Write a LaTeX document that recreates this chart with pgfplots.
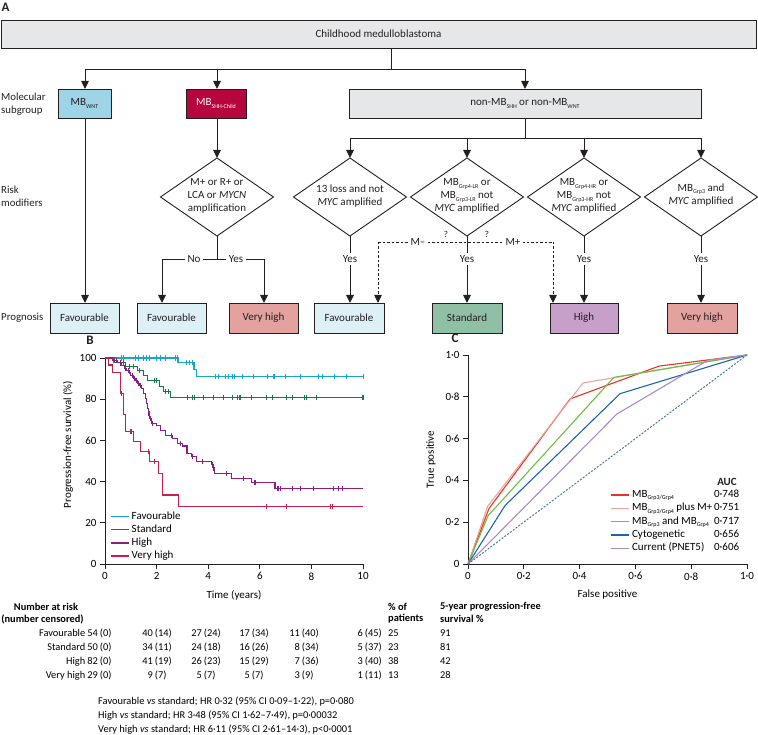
\documentclass[border=0pt]{standalone}
\usepackage{fontspec}
\setmainfont{Carlito}
\usepackage{pgfplots}
\pgfplotsset{compat=1.18}
\usetikzlibrary{arrows.meta}

\definecolor{lc}{HTML}{231F20}
\definecolor{boxgray}{HTML}{E6E7E8}
\definecolor{wntblue}{HTML}{9DD4E6}
\definecolor{shhred}{HTML}{B6063D}
\definecolor{favbg}{HTML}{DDF0F6}
\definecolor{vhbg}{HTML}{E3A29E}
\definecolor{stdbg}{HTML}{8FBFA4}
\definecolor{highbg}{HTML}{C6A0C8}
\definecolor{kmfav}{HTML}{18A5CE}
\definecolor{kmstd}{HTML}{167A45}
\definecolor{kmhigh}{HTML}{8D1F83}
\definecolor{kmvh}{HTML}{C81F4F}
\definecolor{rocred}{HTML}{EE3124}
\definecolor{rocpink}{HTML}{EAA59F}
\definecolor{rocgreen}{HTML}{6DBE45}
\definecolor{rocblue}{HTML}{1D63AE}
\definecolor{rocpurple}{HTML}{A98BCB}
\definecolor{rocdiag}{HTML}{4F7D8C}

\newcommand\sub[1]{\raisebox{-0.45ex}{\fontsize{6}{6}\selectfont #1}}
\newcommand\fF{\fontsize{11}{13}\selectfont}
\newcommand\fT{\fontsize{10.4}{12}\selectfont}
\newcommand\fX{\fontsize{11}{12}\selectfont}
\newcommand\cell[4]{\node[anchor=base east,inner sep=0pt] at (#1,#2) {#3};\node[anchor=base west,inner sep=0pt] at (#1,#2) {\,(#4)};}

\begin{document}
\begin{tikzpicture}
\begin{scope}[x=1pt,y=-1pt,
  box/.style={draw=lc,line width=0.9pt},
  ln/.style={draw=lc,line width=0.9pt},
  arr/.style={draw=lc,line width=0.9pt,-{Triangle[width=7.5pt,length=8pt]}},
  lab/.style={fill=white,inner sep=2.5pt,font=\fF},
  every node/.style={font=\fF,text=lc}]
\useasboundingbox (0,0) rectangle (758,735);
% panel labels
\node[font=\fontsize{13}{13}\selectfont\bfseries] at (5.5,7) {A};
\node[font=\fontsize{13}{13}\selectfont\bfseries] at (90,340) {B};
\node[font=\fontsize{13}{13}\selectfont\bfseries] at (455,338) {C};
% top box
\draw[box,fill=boxgray] (1,20) rectangle (756,48);
\node at (378.5,34) {Childhood medulloblastoma};
\draw[ln] (391,48) -- (391,69);
\draw[ln] (85,69) -- (525,69);
\draw[arr] (85,69) -- (85,89);
\draw[arr] (217,69) -- (217,89);
\draw[arr] (525,69) -- (525,89);
% subgroup boxes
\draw[box,fill=wntblue] (58,89) rectangle (111,118);
\node at (84.5,103.5) {MB\sub{WNT}};
\draw[box,fill=shhred] (186,89) rectangle (246,118);
\node[text=white] at (216,103.5) {MB\sub{SHH-Child}};
\draw[box,fill=boxgray] (349,89) rectangle (701,118);
\node at (525,103.5) {non-MB\sub{SHH} or non-MB\sub{WNT}};
% left labels
\node[anchor=west,align=left,inner sep=0pt,font=\fontsize{10.8}{13}\selectfont] at (1,104.5) {Molecular\\subgroup};
\node[anchor=west,align=left,inner sep=0pt,font=\fontsize{10.8}{13}\selectfont] at (1,196.5) {Risk\\modifiers};
\node[anchor=west,inner sep=0pt,font=\fontsize{10.8}{13}\selectfont] at (1,318) {Prognosis};
% WNT
\draw[arr] (85,118) -- (85,303);
% SHH
\draw[arr] (217,118) -- (217,158);
\draw[box,fill=white] (217,158) -- (273.5,197) -- (217,236) -- (160.5,197) -- cycle;
\node[align=center] at (217,196) {M+ or R+ or\\LCA or \textit{MYCN}\\amplification};
\draw[ln] (217,236) -- (217,259);
\draw[ln] (162,259) -- (264,259);
\draw[arr] (162,259) -- (162,303);
\draw[arr] (264,259) -- (264,303);
\node[lab] at (194,259) {No};
\node[lab] at (236,259) {Yes};
% non-MB
\draw[ln] (525,118) -- (525,138);
\draw[ln] (350,138) -- (701,138);
\foreach \cx in {350,467,584,701}{
  \draw[arr] (\cx,138) -- (\cx,158);
  \draw[box,fill=white] (\cx,158) -- (\cx+56.5,197) -- (\cx,236) -- (\cx-56.5,197) -- cycle;
}
\node[align=center] at (350,196) {13 loss and not\\\textit{MYC} amplified};
\node[align=center] at (467,196) {MB\sub{Grp4-LR} or\\MB\sub{Grp3-LR} not\\\textit{MYC} amplified};
\node[align=center] at (584,196) {MB\sub{Grp4-HR} or\\MB\sub{Grp3-HR} not\\\textit{MYC} amplified};
\node[align=center] at (701,195) {MB\sub{Grp3} and\\\textit{MYC} amplified};
% dashed
\draw[draw=lc,line width=0.8pt,dash pattern=on 2.5pt off 2pt] (378,242) -- (553,242);
\draw[draw=lc,line width=0.8pt,dash pattern=on 2.5pt off 2pt,-{Triangle[width=7.5pt,length=8pt]}] (378,242) -- (378,303);
\draw[draw=lc,line width=0.8pt,dash pattern=on 2.5pt off 2pt,-{Triangle[width=7.5pt,length=8pt]}] (553,242) -- (553,303);
\node[lab] at (418,242) {M–};
\node[lab] at (513,242) {M+};
\node[font=\fontsize{9}{9}\selectfont] at (446,234) {?};
\node[font=\fontsize{9}{9}\selectfont] at (487,234) {?};
\foreach \cx in {350,467,584,701}{
  \draw[arr] (\cx,236) -- (\cx,303);
  \node[lab] at (\cx,259) {Yes};
}
% prognosis boxes
\draw[box,fill=favbg] (50,303) rectangle (119,333); \node at (84.5,318) {Favourable};
\draw[box,fill=favbg] (137,303) rectangle (206,333); \node at (171.5,318) {Favourable};
\draw[box,fill=vhbg] (229,303) rectangle (298,333); \node at (263.5,318) {Very high};
\draw[box,fill=favbg] (314,303) rectangle (384,333); \node at (349,318) {Favourable};
\draw[box,fill=stdbg] (432,303) rectangle (502,333); \node at (467,318) {Standard};
\draw[box,fill=highbg] (550,303) rectangle (618,333); \node at (584,318) {High};
\draw[box,fill=vhbg] (667,303) rectangle (737,333); \node at (702,318) {Very high};
% AUC header
\node[anchor=center,font=\fX\bfseries] at (727,482) {AUC};
% table
\begin{scope}[every node/.style={font=\fT,text=black}]
\node[font=\fT\bfseries,inner sep=0pt] at (46,607) {Number at risk};
\node[font=\fT\bfseries,inner sep=0pt] at (42.5,619) {(number censored)};
\node[font=\fT\bfseries,anchor=west,inner sep=0pt] at (388,607) {\% of};
\node[font=\fT\bfseries,anchor=west,inner sep=0pt] at (388,619) {patients};
\node[font=\fT\bfseries,anchor=west,inner sep=0pt] at (440,607) {5-year progression-free};
\node[font=\fT\bfseries,anchor=west,inner sep=0pt] at (440,619) {survival \%};
\node[anchor=base east,inner sep=0pt] at (85.5,636.5) {Favourable};
\node[anchor=base east,inner sep=0pt] at (85.5,650.5) {Standard};
\node[anchor=base east,inner sep=0pt] at (85.5,664.5) {High};
\node[anchor=base east,inner sep=0pt] at (85.5,678.5) {Very high};
\cell{98}{636.5}{54}{0}\cell{153}{636.5}{40}{14}\cell{202}{636.5}{27}{24}\cell{250}{636.5}{17}{34}\cell{300}{636.5}{11}{40}\cell{363}{636.5}{6}{45}
\cell{98}{650.5}{50}{0}\cell{153}{650.5}{34}{11}\cell{202}{650.5}{24}{18}\cell{250}{650.5}{16}{26}\cell{300}{650.5}{8}{34}\cell{363}{650.5}{5}{37}
\cell{98}{664.5}{82}{0}\cell{153}{664.5}{41}{19}\cell{202}{664.5}{26}{23}\cell{250}{664.5}{15}{29}\cell{300}{664.5}{7}{36}\cell{363}{664.5}{3}{40}
\cell{98}{678.5}{29}{0}\cell{153}{678.5}{9}{7}\cell{202}{678.5}{5}{7}\cell{250}{678.5}{5}{7}\cell{300}{678.5}{3}{9}\cell{363}{678.5}{1}{11}
\node[anchor=base west,inner sep=0pt] at (388,636.5) {25};
\node[anchor=base west,inner sep=0pt] at (388,650.5) {23};
\node[anchor=base west,inner sep=0pt] at (388,664.5) {38};
\node[anchor=base west,inner sep=0pt] at (388,678.5) {13};
\node[anchor=base west,inner sep=0pt] at (440,636.5) {91};
\node[anchor=base west,inner sep=0pt] at (440,650.5) {81};
\node[anchor=base west,inner sep=0pt] at (440,664.5) {42};
\node[anchor=base west,inner sep=0pt] at (440,678.5) {28};
\node[anchor=base west,inner sep=0pt] at (98,704.5) {Favourable \textit{vs} standard; HR 0·32 (95\% CI 0·09–1·22), p=0·080};
\node[anchor=base west,inner sep=0pt] at (98,718.5) {High \textit{vs} standard; HR 3·48 (95\% CI 1·62–7·49), p=0·00032};
\node[anchor=base west,inner sep=0pt] at (98,732.5) {Very high \textit{vs} standard; HR 6·11 (95\% CI 2·61–14·3), p<0·0001};
\end{scope}
\end{scope}

% ---------- Panel B ----------
\begin{axis}[
  at={(105pt,-564pt)}, anchor=south west,
  width=258pt, height=206pt, scale only axis,
  xmin=0, xmax=10, ymin=0, ymax=100, clip=false,
  axis x line*=bottom, axis y line*=left,
  axis line style={line width=0.8pt,lc},
  tick style={line width=0.8pt,lc},
  tick align=outside, major tick length=5pt,
  xtick={0,2,4,6,8,10}, xticklabels={0,2,4,6,8,10},
  ytick={0,20,40,60,80,100}, yticklabels={0,20,40,60,80,100},
  tick label style={font=\fX},
  xlabel={Time (years)}, ylabel={Progression-free survival (\%)},
  label style={font=\fX},
  xlabel style={at={(axis description cs:0.5,-0.15)}, anchor=center},
  ylabel style={at={(axis description cs:-0.143,0.58)}, anchor=center},
  legend style={draw=none, fill=none, at={(0.018,0.012)}, anchor=south west,
    font=\fX, row sep=2.7pt, inner sep=0pt, column sep=2pt,
    nodes={inner sep=0.5pt, text height=7.5pt, text depth=2pt}},
  legend cell align=left,
  legend image code/.code={\draw[#1,line width=1.4pt] (0pt,0pt) -- (18pt,0pt);},
]
\addplot[const plot, color=kmfav, line width=1.1pt] coordinates {(0,100)(2.83,97.9)(3.45,94.6)(3.55,91.0)(10,91.0)};
\addlegendentry{Favourable}
\addplot[const plot, color=kmstd, line width=1.1pt] coordinates {(0,100)(0.35,98)(0.8,96)(1.25,94)(1.5,91.5)(1.65,88.9)(2.1,86.2)(2.25,83.8)(2.55,80.8)(10,80.8)};
\addlegendentry{Standard}
\addplot[const plot, color=kmhigh, line width=1.1pt] coordinates {(0,100)(0.3,98.8)(0.5,97.6)(0.65,96.3)(0.75,95.1)(0.85,93.9)(0.95,92.7)(1.0,91.4)(1.1,90.2)(1.2,89)(1.25,87.8)(1.35,86.6)(1.42,85.4)(1.5,82.9)(1.58,80.5)(1.62,78)(1.65,75.6)(1.68,73.2)(1.73,70.7)(1.8,68.3)(2.0,67.1)(2.15,64.6)(2.35,62.2)(2.6,61)(2.8,58.5)(3.0,57.3)(3.18,53.7)(3.36,52)(3.55,49.7)(4.13,48.1)(4.2,45.6)(4.26,44)(4.91,41.6)(5.68,39.5)(6.59,36.6)(10,36.6)};
\addlegendentry{High}
\addplot[const plot, color=kmvh, line width=1.1pt] coordinates {(0,100)(0.15,96.6)(0.3,93.1)(0.61,82.8)(0.71,72.4)(0.78,69)(0.81,64.2)(1.1,59.4)(1.36,54.5)(1.74,49.7)(2.07,44)(2.22,33.5)(2.84,27.8)(10,27.8)};
\addlegendentry{Very high}
\addplot[only marks, mark=|, mark size=2.6pt, color=kmfav, mark options={line width=0.8pt}, forget plot] coordinates {(0.65,100)(0.71,100)(1.16,100)(1.29,100)(1.49,100)(1.62,100)(1.72,100)(2.0,100)(2.13,100)(2.33,100)(2.71,100)(2.8,100)(3.14,97.9)(3.27,97.9)(3.4,97.9)(4.26,91)(4.39,91)(4.65,91)(4.78,91)(4.93,91)(5.0,91)(5.34,91)(5.77,91)(6.31,91)(6.52,91)(6.56,91)(6.98,91)(7.56,91)(8.29,91)(8.43,91)(8.91,91)(9.34,91)(10,91)};
\addplot[only marks, mark=|, mark size=2.6pt, color=kmstd, mark options={line width=0.8pt}, forget plot] coordinates {(0.7,98)(0.95,96)(1.1,96)(1.35,94)(1.9,88.9)(2.0,88.9)(2.35,83.8)(2.45,83.8)(3.2,80.8)(3.38,80.8)(3.47,80.8)(3.81,80.8)(4.22,80.8)(4.57,80.8)(4.93,80.8)(5.13,80.8)(5.21,80.8)(5.26,80.8)(5.66,80.8)(6.27,80.8)(6.5,80.8)(7.02,80.8)(7.27,80.8)(7.71,80.8)(7.82,80.8)(8.18,80.8)(9.96,80.8)(9.98,80.8)(10,80.8)};
\addplot[only marks, mark=|, mark size=2.6pt, color=kmhigh, mark options={line width=0.8pt}, forget plot] coordinates {(0.45,98.8)(0.6,97.6)(0.8,95.1)(0.9,93.9)(1.05,91.4)(1.15,90.2)(1.22,89)(1.3,87.8)(1.38,86.6)(1.7,73.2)(1.72,73.2)(1.76,70.7)(1.85,68.3)(2.58,62.2)(2.91,58.5)(3.4,52)(3.79,49.7)(4.17,48.1)(4.23,45.6)(4.69,44)(5.36,41.6)(5.78,39.5)(5.84,39.5)(6.69,36.6)(6.74,36.6)(6.81,36.6)(7.27,36.6)(7.56,36.6)(8.07,36.6)(8.85,36.6)(9.04,36.6)(9.21,36.6)};
\addplot[only marks, mark=|, mark size=2.6pt, color=kmvh, mark options={line width=0.8pt}, forget plot] coordinates {(0.65,82.8)(0.97,64.2)(1.03,64.2)(1.68,54.5)(1.9,49.7)(6.27,27.8)(7.04,27.8)(8.75,27.8)(8.83,27.8)};
\end{axis}

% ---------- Panel C ----------
\begin{axis}[
  at={(468pt,-564pt)}, anchor=south west,
  width=279pt, height=209pt, scale only axis,
  xmin=0, xmax=1, ymin=0, ymax=1, clip=false,
  axis x line*=bottom, axis y line*=left,
  axis line style={line width=0.8pt,lc},
  tick style={line width=0.8pt,lc},
  tick align=outside, major tick length=5pt,
  xtick={0,0.2,0.4,0.6,0.8,1}, xticklabels={0,0·2,0·4,0·6,0·8,1·0},
  ytick={0,0.2,0.4,0.6,0.8,1}, yticklabels={0,0·2,0·4,0·6,0·8,1·0},
  tick label style={font=\fX},
  xlabel={False positive}, ylabel={True positive},
  label style={font=\fX},
  xlabel style={at={(axis description cs:0.5,-0.148)}, anchor=center},
  ylabel style={at={(axis description cs:-0.1326,0.5)}, anchor=center},
  legend style={draw=none, fill=none, at={(0.509,0.048)}, anchor=south west,
    font=\fX, row sep=2.3pt, inner sep=0pt, column sep=2pt,
    nodes={inner sep=0.5pt, text height=7.5pt, text depth=2.5pt}},
  legend cell align=left,
  legend image code/.code={\draw[#1,line width=1.4pt] (0pt,0pt) -- (18pt,0pt);},
]
\addplot[color=rocred, line width=1.1pt] coordinates {(0,0)(0.075,0.265)(0.366,0.79)(0.685,0.947)(1,1)};
\addlegendentry{\makebox[82pt][l]{MB\sub{Grp3/Grp4}}0·748}
\addplot[color=rocpink, line width=1.1pt] coordinates {(0,0)(0.07,0.275)(0.412,0.866)(1,1)};
\addlegendentry{\makebox[82pt][l]{MB\sub{Grp3/Grp4} plus M+}0·751}
\addplot[color=rocgreen, line width=1.1pt] coordinates {(0,0)(0.072,0.231)(0.523,0.893)(1,1)};
\addlegendentry{\makebox[82pt][l]{MB\sub{Grp3} and MB\sub{Grp4}}0·717}
\addplot[color=rocblue, line width=1.1pt] coordinates {(0,0)(0.133,0.28)(0.545,0.815)(1,1)};
\addlegendentry{\makebox[82pt][l]{Cytogenetic}0·656}
\addplot[color=rocpurple, line width=1.1pt] coordinates {(0,0)(0.534,0.718)(0.86,0.975)(1,1)};
\addlegendentry{\makebox[82pt][l]{Current (PNET5)}0·606}
\addplot[color=rocdiag, line width=1pt, dash pattern=on 2pt off 1.5pt, forget plot] coordinates {(0,0)(1,1)};
\end{axis}
\end{tikzpicture}
\end{document}
